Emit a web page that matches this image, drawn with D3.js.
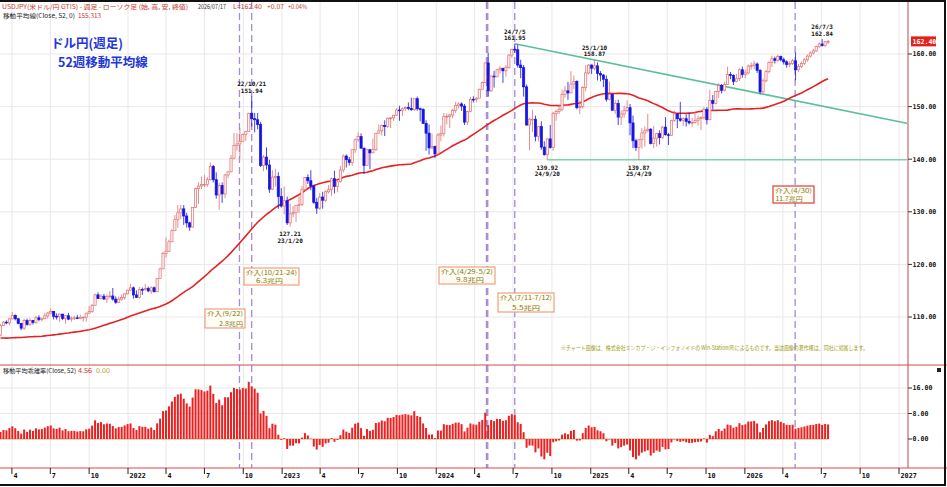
<!DOCTYPE html>
<html>
<head>
<meta charset="utf-8">
<script src="https://cdn.jsdelivr.net/npm/d3@7"></script>
<style>
  body { margin: 0; background: #fff; }
  svg { display: block; }
  text { font-family: "Noto Sans CJK JP", "DejaVu Sans", sans-serif; }
  .mono { font-family: "DejaVu Sans Mono", monospace; font-weight: bold; }
</style>
</head>
<body>
<svg id="chart"></svg>
<script>
// ---- data (weekly, USD/JPY, week ending Fridays from 2021-03-05) ----
const firstWeek = new Date(2021, 2, 5);
const firstOpen = 106.55;

const closes = [
  // 2021
  108.35, 109.03, 108.87, 109.64, 110.28, 109.66, 108.78, 107.88, 109.31,
  108.59, 109.35, 108.96, 109.85, 109.50, 109.67, 110.21, 110.75,
  111.05, 110.14, 110.07, 110.55, 109.72, 110.25, 109.59, 109.78, 109.84,
  109.71, 109.92, 109.97, 110.73, 111.06, 112.23, 114.21, 113.51, 113.96,
  113.42, 113.89, 114.00, 113.40, 112.80, 113.40, 113.70, 114.40, 115.10,
  // 2022
  115.55, 114.20, 113.70, 115.25, 115.20, 115.40, 114.97, 115.56,
  114.80, 117.30, 119.15, 122.05, 122.50, 124.30, 126.40, 128.50, 129.80,
  130.55, 129.20, 127.90, 127.10, 130.85, 134.40, 134.90, 135.20,
  135.20, 136.10, 138.60, 136.10, 133.20, 135.00, 133.40, 137.00, 137.60,
  140.20, 142.60, 142.90, 143.40, 144.70, 145.30, 148.70, 147.70, 147.50,
  146.60, 138.80, 140.40, 138.90, 134.30, 136.60, 136.70, 132.90, 131.10,
  // 2023
  132.10, 127.90, 129.60, 129.85, 131.20, 131.40, 134.20, 136.50,
  135.90, 134.90, 131.80, 130.70, 132.80, 132.20, 133.80, 134.20, 136.30,
  134.80, 135.70, 137.95, 140.60, 139.90, 139.40, 141.80, 143.70, 144.30,
  142.10, 138.80, 141.80, 141.20, 141.80, 144.95, 145.40, 146.40,
  146.20, 147.80, 147.85, 148.35, 149.35, 149.30, 149.60, 149.85, 149.65,
  149.40, 151.50, 149.60, 149.45, 146.80, 144.95, 142.15, 142.40, 141.00,
  // 2024
  144.60, 144.90, 148.10, 148.15, 148.40, 149.30, 150.20, 150.50,
  150.10, 147.05, 149.05, 151.40, 151.35, 151.60, 153.30, 154.60, 158.30,
  153.00, 155.80, 155.65, 157.00, 157.30, 156.80, 157.40, 159.80, 160.90,
  160.80, 157.90, 157.40, 153.75, 146.50, 147.60, 147.60, 144.35, 146.20,
  142.30, 140.85, 143.85, 142.20, 148.70, 149.10, 149.50, 152.30,
  153.00, 152.60, 154.30, 154.80, 149.80, 150.00, 153.65, 156.40, 157.90,
  // 2025
  157.30, 157.75, 156.30, 156.00, 155.20, 151.40, 152.30, 149.30, 150.60,
  148.00, 148.60, 149.30, 149.80, 146.90, 143.50, 142.20, 143.70,
  145.00, 145.40, 145.70, 143.00, 144.00, 144.85, 144.10, 146.10, 144.65,
  144.50, 147.40, 148.60, 147.70, 147.40, 147.70, 147.20, 146.90, 147.00,
  147.40, 147.70, 147.95, 149.50, 147.50, 151.20, 150.60, 152.90, 154.00,
  153.10, 154.20, 156.10, 155.90, 154.80, 155.30, 157.00, 156.10,
  // 2026
  156.40, 157.70, 157.80, 158.10, 156.90, 152.80, 154.90, 156.70, 158.40,
  159.10, 158.80, 159.50, 158.90, 158.50, 158.00, 158.20, 158.70,
  157.00, 157.60, 158.20, 158.90, 159.60, 160.20, 160.60, 161.40, 161.90,
  161.60, 162.33, 162.40
];

const highs = [
  // 2021
  108.64, 109.24, 109.36, 109.85, 110.97, 110.50, 109.80, 108.90, 109.70,
  109.70, 109.79, 109.45, 110.20, 110.33, 109.85, 110.82, 110.97,
  111.66, 111.10, 110.70, 110.60, 110.60, 110.37, 110.80, 110.10, 110.25,
  110.40, 110.45, 110.10, 110.80, 112.08, 112.50, 114.47, 114.70, 114.30,
  114.40, 114.30, 114.97, 115.52, 113.90, 113.90, 114.30, 114.50, 115.20,
  // 2022
  116.35, 115.80, 115.06, 115.70, 115.60, 116.30, 115.80, 115.80,
  115.80, 117.40, 119.40, 122.40, 125.10, 124.70, 126.70, 129.40, 131.25,
  131.35, 131.30, 129.80, 128.10, 130.90, 134.60, 135.60, 136.70,
  137.00, 136.60, 139.40, 138.90, 137.50, 135.50, 135.60, 137.20, 137.70,
  140.80, 144.99, 144.95, 145.90, 144.90, 145.40, 148.85, 151.94, 148.80,
  148.80, 147.10, 140.80, 142.25, 139.90, 137.90, 138.20, 137.50, 134.50,
  // 2023
  134.80, 132.90, 131.60, 131.10, 131.20, 132.90, 134.90, 136.60,
  137.10, 137.90, 135.10, 132.60, 133.60, 133.80, 134.10, 135.10, 136.50,
  137.80, 135.80, 138.70, 140.90, 140.90, 140.40, 141.90, 143.90, 145.10,
  144.90, 142.20, 142.00, 141.90, 143.90, 145.00, 146.60, 146.60,
  147.40, 147.90, 147.95, 148.45, 149.70, 150.16, 149.80, 150.00, 150.80,
  151.70, 151.60, 151.90, 149.80, 149.70, 147.40, 146.60, 144.90, 142.60,
  // 2024
  145.00, 146.40, 148.80, 148.70, 148.60, 149.60, 150.90, 150.80,
  150.80, 150.50, 149.20, 151.86, 151.97, 151.80, 153.40, 154.80, 158.40,
  160.20, 155.90, 156.80, 157.20, 157.70, 157.30, 157.90, 159.90, 161.00,
  161.95, 161.80, 158.90, 157.90, 154.20, 147.90, 149.40, 148.30, 146.20,
  147.20, 143.40, 144.00, 146.50, 149.00, 149.40, 150.30, 153.20,
  153.90, 154.70, 156.75, 155.90, 155.00, 151.20, 153.90, 157.90, 158.10,
  // 2025
  158.00, 158.87, 158.40, 156.75, 156.20, 155.90, 154.80, 152.40, 151.20,
  151.30, 149.20, 150.15, 151.20, 150.50, 148.30, 143.90, 143.90,
  145.90, 146.20, 148.65, 145.90, 146.30, 145.00, 145.50, 146.30, 148.00,
  145.00, 147.50, 149.20, 148.70, 150.90, 148.00, 148.50, 148.80, 147.90,
  149.10, 148.30, 148.20, 149.90, 149.90, 153.20, 152.20, 153.00, 154.45,
  154.30, 154.70, 157.60, 156.60, 156.10, 156.20, 157.30, 157.60,
  // 2026
  157.00, 158.00, 158.40, 158.70, 158.40, 157.10, 155.30, 157.00, 158.60,
  159.70, 159.50, 159.90, 159.70, 159.30, 158.80, 158.60, 159.10,
  160.30, 158.10, 158.60, 159.20, 159.90, 160.50, 161.00, 161.60, 162.20,
  162.84, 162.50, 162.70
];

const lows = [
  // 2021
  106.37, 108.34, 108.61, 108.41, 109.60, 109.37, 108.61, 107.48, 107.50,
  108.35, 108.34, 108.56, 108.70, 109.20, 109.19, 109.60, 109.70,
  110.50, 109.53, 109.50, 109.07, 109.40, 108.72, 109.40, 109.10, 109.40,
  109.60, 109.60, 109.10, 109.10, 110.60, 110.80, 112.20, 113.40, 113.30,
  113.20, 112.70, 113.60, 113.10, 112.50, 112.70, 113.10, 113.30, 114.30,
  // 2022
  115.00, 113.50, 113.60, 113.50, 114.20, 115.00, 114.70, 114.40,
  114.70, 114.80, 117.30, 119.10, 121.30, 122.40, 124.30, 126.40, 126.95,
  128.60, 127.50, 127.00, 126.40, 127.00, 130.80, 131.50, 134.30,
  134.70, 134.75, 136.00, 135.60, 132.50, 130.40, 131.70, 132.60, 136.40,
  137.50, 140.00, 141.60, 140.30, 143.50, 143.50, 145.20, 146.20, 145.10,
  145.70, 138.50, 137.70, 138.00, 133.60, 134.10, 134.80, 130.60, 130.80,
  // 2023
  129.50, 127.50, 127.21, 129.00, 128.10, 129.80, 131.10, 133.90,
  135.30, 134.10, 131.50, 129.60, 130.40, 130.60, 131.90, 133.50, 133.00,
  133.50, 133.70, 135.60, 137.50, 138.40, 138.80, 138.75, 141.20, 143.30,
  142.00, 137.20, 138.80, 138.10, 141.50, 141.60, 144.90, 144.50,
  144.40, 146.00, 145.90, 147.30, 148.30, 147.30, 148.20, 149.20, 149.30,
  149.20, 149.20, 149.20, 147.20, 146.70, 141.60, 140.90, 141.90, 140.20,
  // 2024
  140.80, 143.40, 144.30, 146.60, 145.90, 147.80, 148.80, 149.60,
  149.20, 146.50, 146.50, 148.90, 150.80, 150.80, 151.60, 153.60, 154.50,
  151.90, 152.80, 153.60, 155.80, 156.30, 154.50, 155.70, 157.20, 159.30,
  160.20, 157.40, 155.40, 151.90, 146.40, 141.70, 145.20, 143.40, 143.40,
  141.80, 140.70, 139.92, 142.00, 141.60, 147.30, 148.60, 149.10,
  151.70, 151.30, 152.60, 153.30, 149.50, 148.60, 149.60, 152.90, 156.10,
  // 2025
  156.20, 156.90, 154.97, 154.80, 153.70, 150.95, 151.20, 149.30, 148.60,
  146.50, 146.50, 147.90, 149.00, 144.55, 142.10, 141.60, 139.87,
  142.00, 142.40, 145.10, 142.80, 142.10, 142.40, 142.80, 143.80, 144.50,
  142.70, 144.50, 147.10, 145.90, 147.10, 146.30, 146.20, 146.60, 146.20,
  146.80, 146.40, 145.50, 147.50, 146.60, 149.50, 149.40, 150.40, 151.60,
  152.50, 152.90, 154.20, 155.20, 154.10, 154.60, 154.90, 155.50,
  // 2026
  155.40, 156.10, 157.00, 157.10, 156.40, 152.40, 152.60, 154.60, 156.30,
  157.50, 158.20, 158.50, 158.60, 158.00, 157.40, 157.50, 157.90,
  155.00, 156.60, 157.30, 157.90, 158.50, 159.30, 159.90, 160.40, 161.10,
  161.40, 161.30, 161.90
];

// closes of the 52 weeks before the first bar (feed the 52-week average)
const priorCloses = [
  105.40, 107.95, 110.80, 107.90, 108.45, 108.45, 107.50, 107.50,
  106.90, 106.60, 107.10, 107.60, 107.80, 109.60, 107.40, 106.90, 107.20,
  107.50, 106.90, 107.00, 106.10, 105.80, 105.90, 106.60, 105.80, 105.40,
  106.20, 106.15, 104.55, 105.60, 105.30, 105.60, 105.40, 104.70, 104.65,
  103.35, 104.60, 103.85, 104.10, 104.15, 104.00, 103.30, 103.60,
  103.25, 103.90, 103.85, 103.80, 104.70, 105.40, 104.95, 105.45, 106.55
];

const priceTicks = [110, 120, 130, 140, 150, 160];
const devTicks = [0, 8, 16];

// labelled highs / lows
const extremes = [
  { date: "2022-10-21", value: 151.94, label: "22/10/21", side: "above" },
  { date: "2023-01-20", value: 127.21, label: "23/1/20", side: "below" },
  { date: "2024-07-05", value: 161.95, label: "24/7/5", side: "above" },
  { date: "2024-09-20", value: 139.92, label: "24/9/20", side: "below" },
  { date: "2025-01-10", value: 158.87, label: "25/1/10", side: "above" },
  { date: "2025-04-25", value: 139.87, label: "25/4/29", side: "below" },
  { date: "2026-07-03", value: 162.84, label: "26/7/3", side: "above" }
];

// intervention dates (dashed lines) and notes
const interventionDates = ["2022-09-22", "2022-10-21", "2024-04-29", "2024-05-02", "2024-07-05", "2026-04-30"];
const interventionNotes = [
  ["介入(9/22)", "2.8兆円"],
  ["介入(10/21-24)", "6.3兆円"],
  ["介入(4/29-5/2)", "9.8兆円"],
  ["介入(7/11-7/12)", "5.5兆円"],
  ["介入(4/30)", "11.7兆円"]
];

// trend lines: resistance through two highs, support level
const resistancePts = [{ date: "2024-07-05", value: 161.95 }, { date: "2025-01-10", value: 158.87 }];
const supportLevel = { date: "2024-09-20", value: 139.9 };

// ---- layout ----
const W = 947, H = 487;
const axisX = 908;
const mainTop = 2, sepY = 365, devBottom = 468;
const parse = d3.timeParse("%Y-%m-%d");

if (closes.length !== highs.length || closes.length !== lows.length) {
  throw new Error("length mismatch " + closes.length + " " + highs.length + " " + lows.length);
}

const svg = d3.select("#chart").attr("width", W).attr("height", H);

const x = d3.scaleTime([new Date(2022, 0, 1), new Date(2027, 0, 1)], [128, 899]);
const y = d3.scaleLinear([110, 160], [317, 54]);
const yDev = d3.scaleLinear([0, 16], [439, 388]);

const allCloses = priorCloses.concat(closes);
const bars = closes.map((c, i) => {
  const ma = d3.mean(allCloses.slice(i + 1, i + 53));
  return {
    date: d3.timeDay.offset(firstWeek, 7 * i),
    open: i === 0 ? firstOpen : closes[i - 1],
    close: c, high: highs[i], low: lows[i], ma: ma,
    dev: (c - ma) / ma * 100
  };
});

svg.append("rect").attr("width", W).attr("height", H).attr("fill", "#fff");

// grid
const quarters = d3.timeMonth.every(3).range(new Date(2021, 3, 1), new Date(2027, 0, 2));
svg.append("g").selectAll("line").data(quarters).join("line")
  .attr("x1", d => x(d)).attr("x2", d => x(d))
  .attr("y1", mainTop).attr("y2", devBottom)
  .attr("stroke", "#e8e8e8").attr("stroke-width", 1);

svg.append("g").selectAll("line").data(priceTicks).join("line")
  .attr("x1", 0).attr("x2", axisX)
  .attr("y1", d => y(d)).attr("y2", d => y(d))
  .attr("stroke", "#e8e8e8");

svg.append("g").selectAll("line").data(devTicks.filter(d => d > 0)).join("line")
  .attr("x1", 0).attr("x2", axisX)
  .attr("y1", d => yDev(d)).attr("y2", d => yDev(d))
  .attr("stroke", "#e8e8e8");

// intervention dashed lines
svg.append("g").selectAll("line").data(interventionDates).join("line")
  .attr("x1", d => x(parse(d))).attr("x2", d => x(parse(d)))
  .attr("y1", mainTop).attr("y2", devBottom)
  .attr("stroke", "#a68bd0").attr("stroke-width", 1.3)
  .attr("stroke-dasharray", "7,4");

// trend lines
const rx1 = x(parse(resistancePts[0].date)), ry1 = y(resistancePts[0].value);
const rx2 = x(parse(resistancePts[1].date)), ry2 = y(resistancePts[1].value);
const slope = (ry2 - ry1) / (rx2 - rx1);
svg.append("line")
  .attr("x1", rx1).attr("y1", ry1)
  .attr("x2", axisX).attr("y2", ry1 + slope * (axisX - rx1))
  .attr("stroke", "#5cbf98").attr("stroke-width", 1.6);
svg.append("line")
  .attr("x1", x(parse(supportLevel.date))).attr("x2", axisX)
  .attr("y1", y(supportLevel.value)).attr("y2", y(supportLevel.value))
  .attr("stroke", "#7fd0b0").attr("stroke-width", 1.6);

// 52 week moving average
svg.append("path").datum(bars)
  .attr("fill", "none").attr("stroke", "#e32222").attr("stroke-width", 1.6)
  .attr("d", d3.line().x(d => x(d.date)).y(d => y(d.ma)));

// candles
const upCol = "#e07070", downCol = "#1414e6";
const bw = 2.2;
const candles = svg.append("g");
candles.selectAll("line").data(bars).join("line")
  .attr("x1", d => x(d.date)).attr("x2", d => x(d.date))
  .attr("y1", d => y(Math.max(d.high, d.open, d.close)))
  .attr("y2", d => y(Math.min(d.low, d.open, d.close)))
  .attr("stroke", d => d.close >= d.open ? upCol : downCol)
  .attr("stroke-width", 0.8);
candles.selectAll("rect").data(bars).join("rect")
  .attr("x", d => x(d.date) - bw / 2)
  .attr("y", d => y(Math.max(d.open, d.close)))
  .attr("width", bw)
  .attr("height", d => Math.max(0.8, Math.abs(y(d.open) - y(d.close))))
  .attr("fill", d => d.close >= d.open ? "#fff4f4" : downCol)
  .attr("stroke", d => d.close >= d.open ? upCol : downCol)
  .attr("stroke-width", 0.7);

// deviation bars, zero line only under the data
svg.append("line")
  .attr("x1", x(bars[0].date) - 2).attr("x2", x(bars[bars.length - 1].date) + 1)
  .attr("y1", yDev(0)).attr("y2", yDev(0))
  .attr("stroke", "#c8b070").attr("stroke-width", 1);
svg.append("g").selectAll("rect").data(bars).join("rect")
  .attr("x", d => x(d.date) - 1)
  .attr("y", d => Math.min(yDev(0), yDev(d.dev)))
  .attr("width", 2)
  .attr("height", d => Math.abs(yDev(d.dev) - yDev(0)))
  .attr("fill", "#ec2020");

// high / low labels
const ext = svg.append("g").attr("font-size", 6).attr("text-anchor", "middle").attr("fill", "#111");
extremes.forEach(e => {
  const cx = x(parse(e.date)), py = y(e.value);
  const price = e.value.toFixed(2);
  if (e.side === "above") {
    ext.append("text").attr("class", "mono").attr("x", cx).attr("y", py - 10).text(e.label);
    ext.append("text").attr("class", "mono").attr("x", cx).attr("y", py - 3.5).text(price);
  } else {
    ext.append("text").attr("class", "mono").attr("x", cx).attr("y", py + 10).text(price);
    ext.append("text").attr("class", "mono").attr("x", cx).attr("y", py + 16.5).text(e.label);
  }
});

// intervention note boxes
const boxLayout = [
  { x: 205, y: 309, w: 40, h: 19, indent: 14, w2: 24, border: "#f0a080" },
  { x: 244, y: 268, w: 55, h: 17, indent: 12, w2: 27, border: "#f0a080" },
  { x: 439, y: 267, w: 56, h: 17, indent: 17, w2: 28, border: "#f0a080" },
  { x: 498, y: 293, w: 56, h: 19, indent: 14, w2: 28, border: "#f0a080" },
  { x: 773, y: 186, w: 41, h: 17, indent: 2.5, w2: 27, border: "#e03a3a" }
];
interventionNotes.forEach((n, i) => {
  const b = boxLayout[i];
  const g = svg.append("g");
  g.append("rect").attr("x", b.x).attr("y", b.y).attr("width", b.w).attr("height", b.h)
    .attr("fill", "#fffdf6").attr("stroke", b.border).attr("stroke-width", 1.2);
  g.append("text").attr("x", b.x + 2).attr("y", b.y + 6.6)
    .attr("font-size", 5.9).attr("fill", "#857a10")
    .attr("textLength", b.w - 4).attr("lengthAdjust", "spacingAndGlyphs").text(n[0]);
  g.append("text").attr("x", b.x + b.indent).attr("y", b.y + b.h - 2.3)
    .attr("font-size", 5.9).attr("fill", "#857a10")
    .attr("textLength", b.w2).attr("lengthAdjust", "spacingAndGlyphs").text(n[1]);
});

// right axis line and labels
svg.append("line").attr("x1", axisX).attr("x2", axisX)
  .attr("y1", mainTop).attr("y2", devBottom)
  .attr("stroke", "#dca6a6").attr("stroke-width", 2);
const ra = svg.append("g");
ra.selectAll("line.p").data(priceTicks).join("line").attr("class", "p")
  .attr("x1", axisX).attr("x2", axisX + 4)
  .attr("y1", d => y(d)).attr("y2", d => y(d)).attr("stroke", "#333");
ra.selectAll("text.p").data(priceTicks).join("text").attr("class", "p mono")
  .attr("x", axisX + 4.5).attr("y", d => y(d) + 2.3)
  .attr("font-size", 6.6).attr("fill", "#111")
  .text(d => d.toFixed(2));
ra.selectAll("line.d").data(devTicks).join("line").attr("class", "d")
  .attr("x1", axisX).attr("x2", axisX + 4)
  .attr("y1", d => yDev(d)).attr("y2", d => yDev(d)).attr("stroke", "#333");
ra.selectAll("text.d").data(devTicks).join("text").attr("class", "d mono")
  .attr("x", axisX + 4.5).attr("y", d => yDev(d) + 2.3)
  .attr("font-size", 6.6).attr("fill", "#111")
  .text(d => d.toFixed(2));

// last price box
const last = bars[bars.length - 1];
svg.append("rect").attr("x", axisX + 3).attr("y", y(last.close) - 5)
  .attr("width", 25).attr("height", 10).attr("fill", "#e3201b");
svg.append("text").attr("class", "mono").attr("x", axisX + 4.5).attr("y", y(last.close) + 2.4)
  .attr("font-size", 6.6).attr("fill", "#fff").text(last.close.toFixed(2));

// panel separators
[sepY, devBottom].forEach(v => svg.append("line")
  .attr("x1", 0).attr("x2", W).attr("y1", v).attr("y2", v)
  .attr("stroke", "#d84848").attr("stroke-width", 1));
svg.append("rect").attr("x", 937).attr("y", 368).attr("width", 4).attr("height", 4).attr("fill", "#222");

// date axis
const da = svg.append("g");
da.selectAll("line").data(quarters).join("line")
  .attr("x1", d => x(d)).attr("x2", d => x(d))
  .attr("y1", devBottom).attr("y2", devBottom + 6).attr("stroke", "#222");
da.selectAll("text").data(quarters).join("text").attr("class", "mono")
  .attr("x", d => x(d) + 1.5).attr("y", 478)
  .attr("font-size", 6.8).attr("fill", "#111")
  .text(d => d.getMonth() === 0 ? d.getFullYear() : d.getMonth() + 1);

// header texts
function smallText(tx, ty, len, col, str) {
  svg.append("text").attr("x", tx).attr("y", ty).attr("font-size", 6.2).attr("fill", col)
    .attr("textLength", len).attr("lengthAdjust", "spacingAndGlyphs").text(str);
}
smallText(2, 8.5, 186, "#c43a2a", "USDJPY(米ドル/円 GTIS) - 週足 - ローソク足 (始, 高, 安, 終値)");
smallText(198, 8.5, 28, "#333", "2026/07/17");
smallText(233, 8.5, 29, "#c43a2a", "L=" + last.close.toFixed(2));
smallText(267, 8.5, 17, "#c43a2a", "+0.07");
smallText(288, 8.5, 19, "#c43a2a", "+0.04%");
smallText(3, 18, 72, "#222", "移動平均線(Close, 52, 0)");
smallText(78, 18, 23, "#d03030", last.ma.toFixed(3));

smallText(3, 373, 73, "#222", "移動平均乖離率(Close, 52)");
smallText(78, 373, 14, "#d03030", last.dev.toFixed(2));
smallText(96, 373, 14, "#b8a040", "0.00");

// title
svg.append("text").attr("x", 51).attr("y", 48).attr("font-size", 12.5).attr("font-weight", "bold")
  .attr("fill", "#2336d6").text("ドル円(週足)");
svg.append("text").attr("x", 58).attr("y", 67).attr("font-size", 12.5).attr("font-weight", "bold")
  .attr("fill", "#2336d6").text("52週移動平均線");

// credit note
svg.append("text").attr("x", 561).attr("y", 350).attr("font-size", 5.6).attr("fill", "#a09a10")
  .attr("textLength", 307).attr("lengthAdjust", "spacingAndGlyphs")
  .text("※チャート画像は、株式会社ミンカブ・ジ・インフォノイドの Win-Station(R)によるものです。当該画像の著作権は、同社に帰属します。");

// frame (top, right, bottom)
svg.append("path")
  .attr("d", `M0,1H${W - 2}V${H - 2}H0`)
  .attr("fill", "none").attr("stroke", "#111").attr("stroke-width", 2);
</script>
</body>
</html>
